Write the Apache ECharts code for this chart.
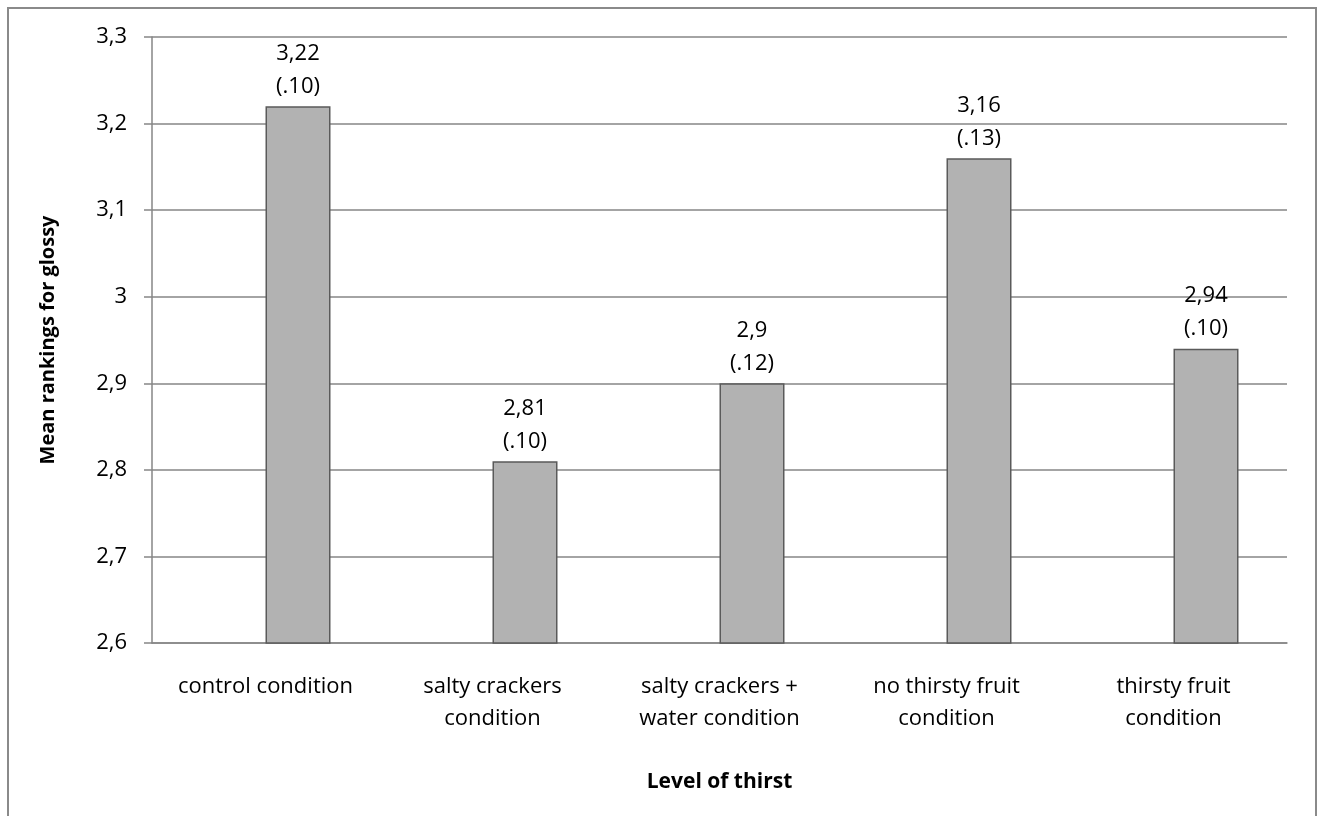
<!DOCTYPE html>
<html><head><meta charset="utf-8">
<script src="https://cdn.jsdelivr.net/npm/echarts@6/dist/echarts.min.js"></script>
<style>html,body{margin:0;padding:0;background:#fff}#c{width:1323px;height:816px}</style>
</head><body><div id="c"></div>
<script>
const categories = ['control condition', 'salty crackers\ncondition', 'salty crackers +\nwater condition', 'no thirsty fruit\ncondition', 'thirsty fruit\ncondition'];
const meanValues = [3.22, 2.81, 2.9, 3.16, 2.94];
const meanLabels = ['3,22', '2,81', '2,9', '3,16', '2,94'];
const seLabels = ['(.10)', '(.10)', '(.12)', '(.13)', '(.10)'];
const hiddenValues = [null, null, null, null, null];
const yMin = 2.6, yMax = 3.3, yStep = 0.1;
const xTitle = 'Level of thirst';
const yTitle = 'Mean rankings for glossy';

const FONT = 'Open Sans';
const chart = echarts.init(document.getElementById('c'), null, {renderer: 'canvas'});
chart.setOption({
  animation: false,
  backgroundColor: '#ffffff',
  textStyle: {fontFamily: FONT},
  graphic: [{
    type: 'rect', shape: {x: 8, y: 8, width: 1308, height: 900},
    style: {fill: 'none', stroke: '#8a8a8a', lineWidth: 2}, silent: true
  }],
  grid: {left: 152, right: 36, top: 37, bottom: 173, containLabel: false, outerBoundsMode: 'none'},
  xAxis: {
    type: 'category', data: categories,
    name: xTitle, nameLocation: 'middle', nameGap: 129,
    nameTextStyle: {fontFamily: FONT, fontWeight: 'bold', fontSize: 21, color: '#000'},
    axisLine: {show: true, lineStyle: {color: '#868686', width: 1.5}},
    axisTick: {show: false},
    axisLabel: {interval: 0, margin: 28, fontSize: 22, lineHeight: 32, color: '#000', fontFamily: FONT}
  },
  yAxis: {
    type: 'value', min: yMin, max: yMax, interval: yStep,
    name: yTitle, nameLocation: 'middle', nameGap: 94, nameRotate: 90,
    nameTextStyle: {fontFamily: FONT, fontWeight: 'bold', fontSize: 20, color: '#000'},
    axisLine: {show: true, lineStyle: {color: '#868686', width: 1.5}},
    axisTick: {show: true, inside: false, length: 8, lineStyle: {color: '#868686', width: 1.5}},
    splitLine: {show: true, lineStyle: {color: '#868686', width: 1.5}},
    axisLabel: {margin: 25, fontSize: 22, color: '#000', fontFamily: FONT,
      formatter: v => String(+v.toFixed(1)).replace('.', ',')}
  },
  series: [
    {type: 'bar', name: 'hidden', data: hiddenValues, barWidth: 65, barGap: '0%', silent: true},
    {
      type: 'bar', name: 'mean', data: meanValues, barWidth: 65, barGap: '0%',
      itemStyle: {color: '#b2b2b2', borderColor: '#5a5a5a', borderWidth: 1.5},
      label: {
        show: true, position: 'top', distance: 3, fontSize: 22, lineHeight: 33,
        color: '#000', fontFamily: FONT, align: 'center',
        formatter: p => meanLabels[p.dataIndex] + '\n' + seLabels[p.dataIndex]
      }
    }
  ]
});
</script></body></html>
